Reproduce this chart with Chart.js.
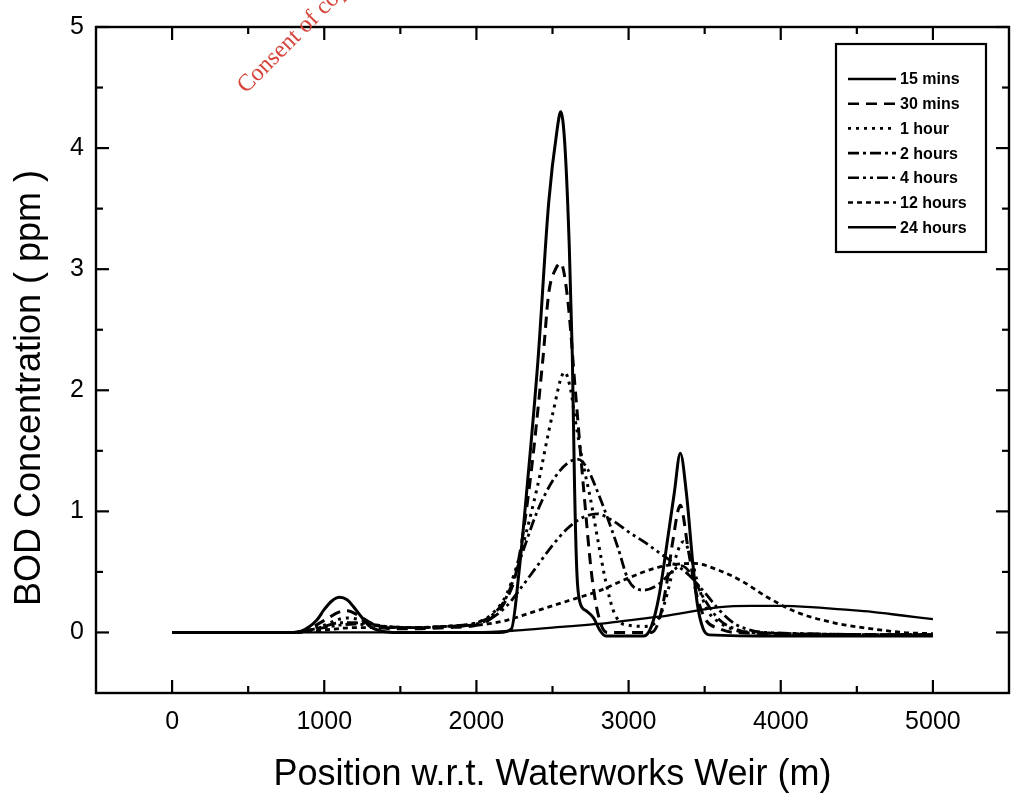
<!DOCTYPE html>
<html>
<head>
<meta charset="utf-8">
<title>BOD Concentration vs Position</title>
<script src="https://cdn.jsdelivr.net/npm/chart.js@4.4.1/dist/chart.umd.min.js"></script>
<style>
  html, body { margin: 0; padding: 0; background: #fff; }
  #chart { display: block; }
</style>
</head>
<body>
<canvas id="chart" width="1014" height="800"></canvas>
<script>
// ----------------------------------------------------
// Data (position in m, BOD in ppm)
// ----------------------------------------------------
const seriesLabels = ['15 mins', '30 mins', '1 hour', '2 hours', '4 hours', '12 hours', '24 hours'];

const x15 = [0, 800, 850, 950, 1000, 1050, 1100, 1150, 1200, 1250, 1300, 1350, 1450, 2000, 2150, 2230, 2280, 2325, 2404, 2475, 2530, 2554, 2580, 2610, 2630, 2645, 2660, 2680, 2720, 2770, 2810, 2850, 3100, 3150, 3200, 3260, 3300, 3340, 3380, 3420, 3450, 3490, 3530, 4000, 5000];
const y15 = [0, 0, 0.01, 0.1, 0.19, 0.26, 0.29, 0.27, 0.2, 0.12, 0.05, 0.02, 0, 0, 0, 0.03, 0.5, 1.09, 2.24, 3.55, 4.15, 4.3, 4.05, 3.2, 2.3, 1.2, 0.5, 0.25, 0.18, 0.12, 0.02, -0.03, -0.03, 0.05, 0.3, 0.8, 1.15, 1.48, 1.15, 0.6, 0.25, 0.03, -0.02, -0.03, -0.03];

const x30 = [0, 800, 900, 1000, 1100, 1150, 1250, 1350, 1450, 1600, 1800, 2000, 2100, 2200, 2260, 2345, 2437, 2475, 2520, 2554, 2600, 2650, 2700, 2760, 2810, 2860, 3150, 3200, 3250, 3290, 3340, 3390, 3440, 3500, 3600, 3700, 5000];
const y30 = [0, 0, 0.03, 0.1, 0.17, 0.18, 0.12, 0.05, 0.03, 0.03, 0.04, 0.06, 0.12, 0.28, 0.49, 1.17, 2.26, 2.8, 3.0, 3.05, 2.75, 2.0, 1.25, 0.45, 0.1, 0.0, 0.0, 0.1, 0.4, 0.75, 1.05, 0.7, 0.35, 0.12, 0.03, 0.0, -0.02];

const x1h = [0, 800, 900, 1000, 1100, 1150, 1250, 1350, 1450, 1600, 1800, 2000, 2100, 2200, 2300, 2400, 2500, 2580, 2620, 2650, 2700, 2750, 2800, 2850, 2900, 2950, 3000, 3100, 3200, 3260, 3310, 3360, 3410, 3460, 3520, 3600, 3700, 3800, 5000];
const y1h = [0, 0, 0.02, 0.06, 0.11, 0.12, 0.1, 0.06, 0.04, 0.04, 0.05, 0.08, 0.15, 0.32, 0.7, 1.2, 1.8, 2.15, 2.0, 1.75, 1.4, 1.1, 0.75, 0.42, 0.18, 0.08, 0.06, 0.05, 0.12, 0.35, 0.62, 0.75, 0.62, 0.38, 0.18, 0.08, 0.02, 0.0, -0.02];

const x2h = [0, 800, 900, 1000, 1100, 1200, 1300, 1400, 1600, 1800, 2000, 2100, 2200, 2300, 2400, 2500, 2600, 2670, 2730, 2800, 2866, 2930, 3000, 3100, 3200, 3300, 3350, 3400, 3500, 3600, 3700, 3800, 5000];
const y2h = [0, 0, 0.02, 0.05, 0.08, 0.08, 0.07, 0.05, 0.04, 0.05, 0.08, 0.14, 0.3, 0.65, 1.0, 1.25, 1.4, 1.43, 1.35, 1.15, 0.93, 0.7, 0.43, 0.35, 0.4, 0.52, 0.55, 0.5, 0.27, 0.1, 0.03, 0.0, -0.02];

const x4h = [0, 800, 900, 1000, 1100, 1200, 1300, 1400, 1600, 1800, 2000, 2100, 2200, 2300, 2400, 2500, 2600, 2700, 2790, 2900, 3000, 3100, 3200, 3300, 3400, 3500, 3600, 3700, 3800, 3900, 5000];
const y4h = [0, 0, 0.02, 0.04, 0.06, 0.07, 0.06, 0.05, 0.04, 0.05, 0.07, 0.12, 0.22, 0.38, 0.55, 0.72, 0.86, 0.95, 0.98, 0.92, 0.83, 0.75, 0.66, 0.57, 0.47, 0.33, 0.18, 0.07, 0.02, 0.0, -0.02];

const x12h = [0, 800, 1000, 1200, 1400, 1600, 1800, 2000, 2200, 2350, 2500, 2650, 2800, 3000, 3200, 3430, 3600, 3750, 3900, 4100, 4350, 4600, 4800, 5000];
const y12h = [0, 0, 0.02, 0.04, 0.04, 0.04, 0.05, 0.06, 0.1, 0.16, 0.22, 0.28, 0.34, 0.45, 0.54, 0.57, 0.51, 0.42, 0.3, 0.17, 0.08, 0.03, 0.0, -0.01];

const x24h = [0, 1500, 2000, 2300, 2600, 2800, 3000, 3200, 3400, 3600, 3800, 4000, 4200, 4400, 4600, 4800, 5000];
const y24h = [0, 0, 0, 0.02, 0.05, 0.07, 0.1, 0.13, 0.17, 0.21, 0.22, 0.22, 0.21, 0.19, 0.17, 0.14, 0.11];

// axis ticks
const xTickValues = [0, 1000, 2000, 3000, 4000, 5000];
const xMinorTicks = [500, 1500, 2500, 3500, 4500];
const yTickValues = [0, 1, 2, 3, 4, 5];
const yMinorTicks = [0.5, 1.5, 2.5, 3.5, 4.5];

const xTitle = 'Position w.r.t. Waterworks Weir (m)';
const yTitle = 'BOD Concentration ( ppm )';
const stampText = 'Consent of copyright owner required for any other use.';

// ----------------------------------------------------
// Build datasets
// ----------------------------------------------------
const toPoints = (xs, ys) => xs.map((x, i) => ({ x: x, y: ys[i] }));

const lineStyles = [
    { dash: [], width: 3 },
    { dash: [11, 7], width: 3 },
    { dash: [3, 5], width: 3 },
    { dash: [11, 4, 3, 4], width: 2.8 },
    { dash: [11, 4, 3, 4, 3, 4], width: 2.8 },
    { dash: [5, 4], width: 2.8 },
    { dash: [], width: 2.3 }
];

const allX = [x15, x30, x1h, x2h, x4h, x12h, x24h];
const allY = [y15, y30, y1h, y2h, y4h, y12h, y24h];

const datasets = seriesLabels.map((label, i) => ({
    label: label,
    data: toPoints(allX[i], allY[i]),
    borderColor: '#000',
    borderWidth: lineStyles[i].width,
    borderDash: lineStyles[i].dash,
    borderCapStyle: 'butt',
    pointRadius: 0,
    fill: false,
    cubicInterpolationMode: 'monotone'
}));

const FONT = "'Liberation Sans', Arial, Helvetica, sans-serif";

// ----------------------------------------------------
// Plugins: frame + inward ticks, titles, legend, stamp
// ----------------------------------------------------
const framePlugin = {
    id: 'frame',
    afterDraw(chart) {
        const { ctx, chartArea: a, scales } = chart;
        ctx.save();
        ctx.strokeStyle = '#000';
        ctx.lineWidth = 2.4;
        ctx.strokeRect(a.left, a.top, a.right - a.left, a.bottom - a.top);

        const tick = (x1, y1, x2, y2) => {
            ctx.beginPath();
            ctx.moveTo(x1, y1);
            ctx.lineTo(x2, y2);
            ctx.stroke();
        };
        ctx.lineWidth = 2.2;
        xTickValues.forEach(v => {
            const px = scales.x.getPixelForValue(v);
            tick(px, a.bottom, px, a.bottom - 13);
            tick(px, a.top, px, a.top + 13);
        });
        xMinorTicks.forEach(v => {
            const px = scales.x.getPixelForValue(v);
            tick(px, a.bottom, px, a.bottom - 7);
            tick(px, a.top, px, a.top + 7);
        });
        yTickValues.forEach(v => {
            const py = scales.y.getPixelForValue(v);
            tick(a.left, py, a.left + 13, py);
            tick(a.right, py, a.right - 13, py);
        });
        yMinorTicks.forEach(v => {
            const py = scales.y.getPixelForValue(v);
            tick(a.left, py, a.left + 7, py);
            tick(a.right, py, a.right - 7, py);
        });

        // axis titles
        ctx.fillStyle = '#000';
        ctx.font = `36px ${FONT}`;
        ctx.textAlign = 'center';
        ctx.textBaseline = 'middle';
        ctx.fillText(xTitle, (a.left + a.right) / 2, 775);
        ctx.translate(30, 388);
        ctx.rotate(-Math.PI / 2);
        ctx.fillText(yTitle, 0, 0);
        ctx.restore();
    }
};

const legendPlugin = {
    id: 'boxLegend',
    afterDraw(chart) {
        const { ctx } = chart;
        const left = 836, top = 44, w = 150, h = 208;
        ctx.save();
        ctx.fillStyle = '#fff';
        ctx.fillRect(left, top, w, h);
        ctx.strokeStyle = '#000';
        ctx.lineWidth = 2.2;
        ctx.strokeRect(left, top, w, h);

        chart.data.datasets.forEach((ds, i) => {
            const y = 79 + i * 24.7;
            ctx.beginPath();
            ctx.setLineDash(ds.borderDash || []);
            ctx.lineWidth = 2.6;
            ctx.moveTo(848, y);
            ctx.lineTo(896, y);
            ctx.stroke();
            ctx.setLineDash([]);
            ctx.fillStyle = '#000';
            ctx.font = `bold 16px ${FONT}`;
            ctx.textAlign = 'left';
            ctx.textBaseline = 'middle';
            ctx.fillText(ds.label, 900, y + 1);
        });
        ctx.restore();
    }
};

const stampPlugin = {
    id: 'stamp',
    afterDraw(chart) {
        const { ctx } = chart;
        ctx.save();
        ctx.translate(246, 94);
        ctx.rotate(-45 * Math.PI / 180);
        ctx.fillStyle = '#d6443a';
        ctx.font = "24px 'Liberation Serif', 'DejaVu Serif', serif";
        ctx.textAlign = 'left';
        ctx.textBaseline = 'alphabetic';
        ctx.fillText(stampText, 0, 0);
        ctx.restore();
    }
};

// ----------------------------------------------------
// Chart
// ----------------------------------------------------
Chart.defaults.font.family = FONT;
Chart.defaults.color = '#000';

new Chart(document.getElementById('chart'), {
    type: 'line',
    data: { datasets: datasets },
    options: {
        responsive: false,
        animation: false,
        layout: { padding: { top: 22, right: 5, bottom: 0, left: 0 } },
        plugins: {
            legend: { display: false },
            tooltip: { enabled: false }
        },
        scales: {
            x: {
                type: 'linear',
                min: -500,
                max: 5500,
                afterBuildTicks: scale => { scale.ticks = xTickValues.map(v => ({ value: v })); },
                afterFit: scale => { scale.height = 107; },
                grid: { display: false, drawTicks: false },
                border: { display: false },
                ticks: {
                    callback: v => String(v),
                    font: { size: 25 },
                    color: '#000',
                    padding: 14,
                    maxRotation: 0,
                    autoSkip: false
                }
            },
            y: {
                type: 'linear',
                min: -0.5,
                max: 5,
                afterBuildTicks: scale => { scale.ticks = yTickValues.map(v => ({ value: v })); },
                afterFit: scale => { scale.width = 96; },
                grid: { display: false, drawTicks: false },
                border: { display: false },
                ticks: {
                    callback: v => String(v),
                    font: { size: 25 },
                    color: '#000',
                    padding: 12,
                    autoSkip: false
                }
            }
        }
    },
    plugins: [framePlugin, legendPlugin, stampPlugin]
});
</script>
</body>
</html>
